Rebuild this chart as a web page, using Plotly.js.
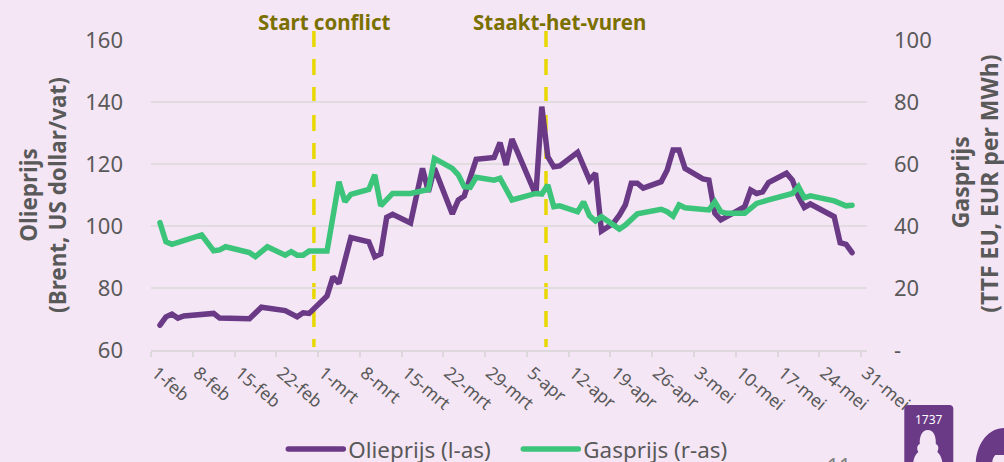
<!DOCTYPE html>
<html><head><meta charset="utf-8">
<script src="https://cdn.plot.ly/plotly-3.0.1.min.js"></script>
<style>html,body{margin:0;padding:0;background:#f5e6f5;overflow:hidden}.js-line{stroke-linecap:round}</style>
</head><body><div id="chart" style="width:1004px;height:462px"></div>
<script>
// Days counted from 1 February; values at the line's vertices.
const oilDays=[1,2,3,4,5,8,9,10,11,16,18,22,24,25,26,29,30,31,33,36,37,38,39,40,43,45,46,47,50,51,52,54,57,58,59,60,64,65,66,67,68,71,73,74,75,77,78,79,80,81,82,85,86,87,88,89,92,93,94,95,99,100,101,102,103,106,107,108,109,110,114,115,116,117];
const oilPrice=[68,70.7,71.6,70.3,71,71.6,71.4,71.8,70.3,70.1,73.8,72.7,70.7,72,71.8,77.4,83.6,81.5,96.3,94.9,90.1,91,102.8,103.8,101,118.6,111,118.6,103.9,108.4,109.7,121.5,122.1,126.9,119.7,128,110,138.5,122.4,119.1,119.4,123.8,114.8,117,98.4,100.9,103.5,106.8,113.8,113.8,112.2,114.3,118,124.5,124.5,118.6,115.2,114.8,104.1,102,106.2,111.6,110.5,111,114,117,114.8,109.5,106,107.1,103,94.6,94.1,91.4];
const gasDays=[1,2,3,4,5,8,10,11,12,16,17,19,22,23,24,25,26,29,31,32,33,36,37,38,40,43,46,47,50,51,52,53,54,57,58,60,64,65,66,67,68,71,72,73,74,75,78,79,81,85,86,87,88,89,93,94,95,96,99,101,103,106,107,108,109,110,114,116,117];
const gasPrice=[41.1,34.9,34.1,34.7,34.9,37.1,32,32.3,33.3,31.4,30.1,33.3,30.6,31.7,30.6,30.6,31.9,31.9,54.3,47.8,50.2,51.8,56.5,46.5,50.5,50.5,51.8,61.8,58.6,56.5,52.7,52.5,55.7,54.8,55.4,48.4,50.5,50.3,53.2,46.2,46.5,44.6,47.8,43.3,41.6,43,39,40.3,43.9,45.4,44.6,43.2,46.8,45.9,45.2,47.8,44.6,44.1,44.1,47.3,48.4,50.2,50.5,52.7,49.1,49.7,48.1,46.5,46.7];
const tickLabels=['1-feb','8-feb','15-feb','22-feb','1-mrt','8-mrt','15-mrt','22-mrt','29-mrt','5-apr','12-apr','19-apr','26-apr','3-mei','10-mei','17-mei','24-mei','31-mei'];
const tickDays=[0,7,14,21,28,35,42,49,56,63,70,77,84,91,98,105,112,119];
const rightTicks=[0,20,40,60,80,100];
const rightLabels=['-','20','40','60','80','100'];
const events=[{label:'Start conflict',day:26.8,labelX:324},{label:'Staakt-het-vuren',day:65.7,labelX:559}];

const W=1004,H=462,L=150.7,R=866.7,T=40,B=350;
const FONT='"Noto Sans", "Open Sans", sans-serif', GREY='#595959', PURPLE='#6b3a87', GREEN='#3cc47a', PLUM='#6b3a87';
const px=x=>(x-L)/(R-L), py=y=>(B-y)/(B-T);
// logo and glyph paths in page pixels, converted to paper coordinates
function path(segs){return segs.map(s=>s[0]+' '+s.slice(1).map((v,i)=>i%2?py(v):px(v)).join(' ')).join(' ')+' Z';}
const deco=(d,fill)=>({type:'path',xref:'paper',yref:'paper',path:d,fillcolor:fill,line:{width:0},layer:'above'});
const shapes=events.map(e=>({type:'line',xref:'x',yref:'paper',x0:e.day,x1:e.day,y0:py(31),y1:py(347),layer:'below',line:{color:'#e8d800',width:3.5,dash:'16px,12px'}}));
shapes.push(deco(path([['M',904,462],['L',904,409],['C',904,406.5,905.5,405,908,405],['L',949,405],['C',951.5,405,953,406.5,953,409],['L',953,462]]),PLUM));
shapes.push(deco(path([['M',913,462],['C',914,456,916,454,918,452],['C',916,448,917,445,919.5,444],['C',919,436,922,430,927.5,430],['C',933,430,936,436,935.5,444],['C',938,445,939,448,937,452],['C',939,454,941,456,942,462]]),'#f5e6f5'));
shapes.push(deco(path([['M',975.5,462],['C',977,442,989,428,1004,428],['L',1004,455],['L',995,455],['C',993,457,992,460,992,462]]),PLUM));

const annotations=events.map(e=>({xref:'paper',yref:'paper',x:px(e.labelX),y:py(22),text:'<b>'+e.label+'</b>',showarrow:false,xanchor:'center',yanchor:'middle',font:{family:FONT,size:20.5,color:'#7a7000'}}));
annotations.push({xref:'paper',yref:'paper',x:px(960),y:py(182),text:'<b>Gasprijs</b>',textangle:-90,showarrow:false,xanchor:'center',yanchor:'middle',font:{family:FONT,size:23,color:GREY}});
annotations.push({xref:'paper',yref:'paper',x:px(988),y:py(183.5),text:'<b>(TTF EU, EUR per MWh)</b>',textangle:-90,showarrow:false,xanchor:'center',yanchor:'middle',font:{family:FONT,size:23,color:GREY}});
annotations.push({xref:'paper',yref:'paper',x:px(928.5),y:py(419),text:'1737',showarrow:false,xanchor:'center',yanchor:'middle',font:{family:FONT,size:12,color:'#ffffff'}});
annotations.push({xref:'paper',yref:'paper',x:px(839),y:py(450),text:'11',showarrow:false,xanchor:'center',yanchor:'top',font:{family:FONT,size:21,color:'#7f7f7f'}});

const traces=[
 {x:oilDays,y:oilPrice,name:'Olieprijs (l-as)',type:'scatter',mode:'lines',yaxis:'y',line:{color:PURPLE,width:5.5}},
 {x:gasDays,y:gasPrice,name:'Gasprijs (r-as)',type:'scatter',mode:'lines',yaxis:'y2',line:{color:GREEN,width:5.5}}
];
const layout={
 width:W,height:H,paper_bgcolor:'#f5e6f5',plot_bgcolor:'#f5e6f5',
 margin:{l:L,r:W-R,t:T,b:H-B,autoexpand:false},
 font:{family:FONT,color:GREY},
 xaxis:{type:'linear',range:[-0.5,119.5],tickmode:'array',tickvals:tickDays.map(d=>d-0.5),ticktext:tickLabels,tickangle:40,ticks:'outside',ticklen:5,tickwidth:2,tickcolor:'#dcd8dc',showline:true,linecolor:'#dcd8dc',linewidth:2,showgrid:false,zeroline:false,ticklabelshift:5,ticklabelstandoff:-1,tickfont:{size:17.5,color:GREY}},
 yaxis:{range:[60,160],tickvals:[60,80,100,120,140,160],showgrid:true,gridcolor:'#e0dce0',gridwidth:2,zeroline:false,showline:false,ticks:'',ticklabelstandoff:27,tickfont:{size:22,color:GREY},title:{text:'<b>Olieprijs<br>(Brent, US dollar/vat)</b>',standoff:12,font:{size:22.5,color:GREY}}},
 yaxis2:{range:[0,100],overlaying:'y',side:'right',tickmode:'array',tickvals:rightTicks,ticktext:rightLabels,showgrid:false,zeroline:false,showline:false,ticks:'',ticklabelstandoff:26,tickfont:{size:22,color:GREY}},
 showlegend:true,
 legend:{orientation:'h',xref:'paper',yref:'paper',x:px(283),y:py(428),xanchor:'left',yanchor:'top',itemwidth:55,entrywidth:165,entrywidthmode:'pixels',font:{size:22.4,color:GREY},bgcolor:'rgba(0,0,0,0)',traceorder:'normal',tracegroupgap:0},
 shapes,annotations
};
Plotly.newPlot('chart',traces,layout,{displayModeBar:false,staticPlot:true});
</script></body></html>
